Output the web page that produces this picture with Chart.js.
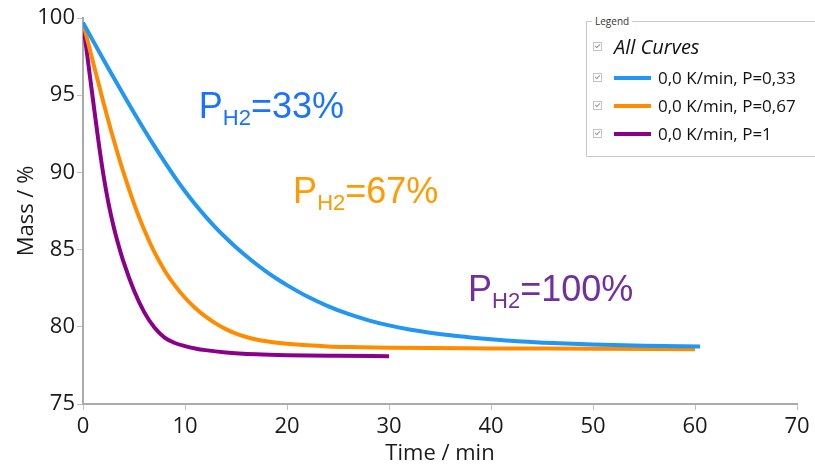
<!DOCTYPE html>
<html>
<head>
<meta charset="utf-8">
<script src="https://cdn.jsdelivr.net/npm/chart.js@4"></script>
<style>
  html, body { margin: 0; padding: 0; background: #fff; }
  #wrap { position: relative; width: 815px; height: 467px; }
  #legendBox {
    position: absolute; left: 586px; top: 21px; width: 240px; height: 136px;
    border: 1px solid #c8c8c8; box-sizing: border-box;
    font-family: "Open Sans", sans-serif; color: #111;
  }
  #legendBox .cap {
    position: absolute; left: 5px; top: -8px; background: #fff; padding: 0 3px;
    font-size: 10px; color: #333;
  }
  .row { position: absolute; left: 6px; display: flex; align-items: center; white-space: nowrap; }
  .chk {
    width: 7px; height: 7px; border: 1px solid #c4c4c4; position: relative; margin-right: 12px;
  }
  .chk::after {
    content: ""; position: absolute; left: 2px; top: 0px; width: 2px; height: 4px;
    border: solid #999; border-width: 0 1px 1px 0; transform: rotate(45deg);
  }
  .swatch { width: 37px; height: 4px; margin-right: 7px; }
  .item { font-size: 17px; }
  .all { font-size: 20px; font-style: italic; }
</style>
</head>
<body>
<div id="wrap">
  <canvas id="massChart" width="815" height="467"></canvas>
  <div id="legendBox">
    <span class="cap">Legend</span>
    <div class="row" style="top:11px"><span class="chk"></span><span class="all">All Curves</span></div>
    <div class="row" style="top:44px"><span class="chk"></span><span class="swatch" style="background:#2196f3"></span><span class="item">0,0 K/min, P=0,33</span></div>
    <div class="row" style="top:72px"><span class="chk"></span><span class="swatch" style="background:#ff8c00"></span><span class="item">0,0 K/min, P=0,67</span></div>
    <div class="row" style="top:100px"><span class="chk"></span><span class="swatch" style="background:#8b008b"></span><span class="item">0,0 K/min, P=1</span></div>
  </div>
</div>
<script>
// P = 0.33
const timeP33 = [0, 1, 2, 3, 4, 5, 6, 7, 8, 9, 10, 11, 12, 13, 14, 15, 16, 17, 18, 19, 20, 22, 24, 26, 28, 30, 32, 34, 36, 38, 40, 43, 46, 50, 55, 60.5];
const massP33 = [99.7, 98.5, 97.31, 96.14, 94.99, 93.86, 92.76, 91.7, 90.68, 89.7, 88.78, 87.93, 87.15, 86.43, 85.77, 85.15, 84.58, 84.05, 83.56, 83.11, 82.7, 81.96, 81.34, 80.83, 80.42, 80.09, 79.83, 79.62, 79.45, 79.31, 79.19, 79.05, 78.95, 78.85, 78.77, 78.72];

// P = 0.67
const timeP67 = [0, 1, 2, 3, 4, 5, 6, 7, 8, 9, 10, 11, 12, 13, 14, 15, 16, 17, 18, 19, 20, 22, 24, 26, 30, 40, 50, 60];
const massP67 = [99.7, 97.1, 94.55, 92.13, 89.93, 87.98, 86.28, 84.83, 83.65, 82.68, 81.88, 81.22, 80.67, 80.22, 79.85, 79.56, 79.34, 79.18, 79.06, 78.97, 78.9, 78.8, 78.73, 78.69, 78.64, 78.6, 78.58, 78.55];

// P = 1
const timeP100 = [0, 0.5, 1, 1.5, 2, 2.5, 3, 3.5, 4, 5, 6, 7, 8, 9, 10, 11, 12, 14, 17, 20, 25, 30];
const massP100 = [99.7, 97.15, 94.6, 92.1, 89.85, 88.0, 86.5, 85.25, 84.15, 82.35, 80.95, 79.95, 79.3, 78.95, 78.75, 78.6, 78.49, 78.34, 78.22, 78.16, 78.12, 78.1];

const xTicks = [0, 10, 20, 30, 40, 50, 60, 70];
const yTicks = [75, 80, 85, 90, 95, 100];

const seriesNames = ["0,0 K/min, P=0,33", "0,0 K/min, P=0,67", "0,0 K/min, P=1"];
const seriesColors = ["#2196f3", "#ff8c00", "#8b008b"];

// text labels on the plot, anchored in data units
const notes = [
  { sub: "H2", rest: "=33%", t: 11.35, m: 93.5, color: "#1a73ff" },
  { sub: "H2", rest: "=67%", t: 20.6, m: 88.0, color: "#ff9a00" },
  { sub: "H2", rest: "=100%", t: 37.75, m: 81.7, color: "#7030a0" }
];

function pts(ts, ms) {
  return ts.map((t, i) => ({ x: t, y: ms[i] }));
}

const noteLabels = {
  id: "noteLabels",
  afterDatasetsDraw(chart) {
    const c = chart.ctx;
    const xs = chart.scales.x, ys = chart.scales.y;
    c.save();
    c.textBaseline = "alphabetic";
    notes.forEach(n => {
      let x = xs.getPixelForValue(n.t);
      let y = ys.getPixelForValue(n.m);
      c.fillStyle = n.color;
      c.font = '36px "Liberation Sans", Arial, sans-serif';
      c.fillText("P", x, y);
      x += c.measureText("P").width;
      c.font = '22px "Liberation Sans", Arial, sans-serif';
      c.fillText(n.sub, x, y + 7);
      x += c.measureText(n.sub).width;
      c.font = '36px "Liberation Sans", Arial, sans-serif';
      c.fillText(n.rest, x, y);
    });
    c.restore();
  }
};

const tickFont = { family: "'Open Sans', sans-serif", size: 22 };

new Chart(document.getElementById("massChart").getContext("2d"), {
  type: "scatter",
  data: {
    datasets: [
      { label: seriesNames[0], data: pts(timeP33, massP33), borderColor: seriesColors[0] },
      { label: seriesNames[1], data: pts(timeP67, massP67), borderColor: seriesColors[1] },
      { label: seriesNames[2], data: pts(timeP100, massP100), borderColor: seriesColors[2] }
    ].map(d => Object.assign(d, {
      showLine: true, pointRadius: 0, borderWidth: 4, fill: false,
      cubicInterpolationMode: "monotone", backgroundColor: d.borderColor
    }))
  },
  options: {
    responsive: false,
    animation: false,
    layout: { padding: { top: 18, right: 18, left: 0, bottom: 0 } },
    plugins: { legend: { display: false }, tooltip: { enabled: false } },
    scales: {
      x: {
        type: "linear", min: 0, max: 70,
        afterBuildTicks: s => { s.ticks = xTicks.map(v => ({ value: v })); },
        afterFit: s => { s.height = 63; },
        grid: { display: true, drawOnChartArea: false, tickLength: 6, color: "#c0c0c0" },
        border: { color: "#ababab", width: 2 },
        ticks: { font: tickFont, color: "#1a1a1a", padding: 4, maxRotation: 0 },
        title: { display: true, text: "Time / min", font: tickFont, color: "#1a1a1a", padding: { top: 0, bottom: 0 } }
      },
      y: {
        type: "linear", min: 75, max: 100,
        afterBuildTicks: s => { s.ticks = yTicks.map(v => ({ value: v })); },
        afterFit: s => { s.width = 83; },
        grid: { display: true, drawOnChartArea: false, tickLength: 6, color: "#c0c0c0" },
        border: { color: "#ababab", width: 2 },
        ticks: { font: tickFont, color: "#1a1a1a", padding: 2 },
        title: { display: true, text: "Mass / %", font: tickFont, color: "#1a1a1a", padding: { top: 14, bottom: 0 } }
      }
    }
  },
  plugins: [noteLabels]
});
</script>
</body>
</html>
